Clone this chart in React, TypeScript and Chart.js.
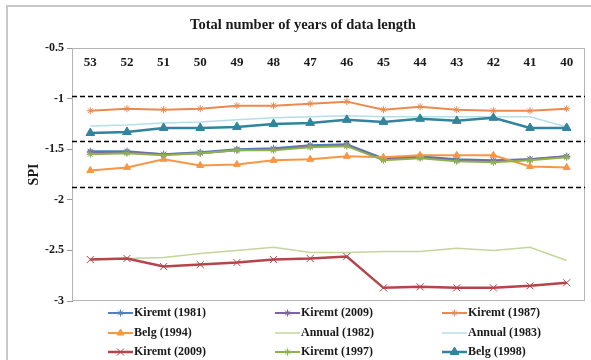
import React, { useEffect, useRef } from 'react';
import { Chart, registerables } from 'chart.js';
import { drawPoint } from 'chart.js/helpers';

Chart.register(...registerables);

const categories = ['53', '52', '51', '50', '49', '48', '47', '46', '45', '44', '43', '42', '41', '40'];

const kiremt1981 = [-1.52, -1.52, -1.55, -1.53, -1.50, -1.49, -1.46, -1.45, -1.59, -1.57, -1.60, -1.61, -1.60, -1.57];
const kiremt2009a = [-1.53, -1.53, -1.55, -1.54, -1.51, -1.50, -1.47, -1.46, -1.60, -1.58, -1.61, -1.62, -1.60, -1.57];
const kiremt1987 = [-1.12, -1.10, -1.11, -1.10, -1.07, -1.07, -1.05, -1.03, -1.11, -1.08, -1.11, -1.12, -1.12, -1.10];
const belg1994 = [-1.71, -1.68, -1.60, -1.66, -1.65, -1.61, -1.60, -1.57, -1.58, -1.56, -1.56, -1.56, -1.67, -1.68];
const annual1982 = [-2.59, -2.58, -2.57, -2.53, -2.50, -2.47, -2.52, -2.52, -2.51, -2.51, -2.48, -2.50, -2.47, -2.60];
const annual1983 = [-1.27, -1.26, -1.24, -1.23, -1.21, -1.19, -1.18, -1.17, -1.18, -1.18, -1.18, -1.18, -1.18, -1.28];
const kiremt2009b = [-2.59, -2.58, -2.66, -2.64, -2.62, -2.59, -2.58, -2.56, -2.87, -2.86, -2.87, -2.87, -2.85, -2.82];
const kiremt1997 = [-1.55, -1.54, -1.56, -1.54, -1.51, -1.51, -1.48, -1.47, -1.61, -1.59, -1.62, -1.63, -1.61, -1.58];
const belg1998 = [-1.34, -1.33, -1.29, -1.29, -1.28, -1.25, -1.24, -1.21, -1.23, -1.20, -1.22, -1.19, -1.29, -1.29];

const seriesNames = [
  'Kiremt (1981)', 'Kiremt (2009)', 'Kiremt (1987)',
  'Belg (1994)', 'Annual (1982)', 'Annual (1983)',
  'Kiremt (2009)', 'Kiremt (1997)', 'Belg (1998)',
];
const seriesData = [kiremt1981, kiremt2009a, kiremt1987, belg1994, annual1982, annual1983, kiremt2009b, kiremt1997, belg1998];
const seriesColors = ['#4F81BD', '#8064A2', '#EB8A4E', '#F79646', '#C3D69B', '#B7DDE8', '#B5454A', '#8DB24E', '#31849B'];
const seriesMarkers = ['star', 'star', 'star', 'triangle', 'line', 'line', 'crossRot', 'star', 'triangle'];
const seriesRadius = [3.5, 3.5, 3.5, 4, 0, 0, 5, 3.5, 5];
const seriesWidths = [2, 2, 2, 2, 1.5, 1.5, 2.5, 2, 2.5];

const thresholds = [-0.97, -1.42, -1.87];
const chartTitle = 'Total number of years of data length';
const yTitle = 'SPI';

const SERIF = "'Liberation Serif', 'Times New Roman', serif";

const framePlugin = {
  id: 'frame',
  beforeDraw(chart: any) {
    const ctx = chart.ctx;
    ctx.save();
    ctx.strokeStyle = '#c8c8c8';
    ctx.lineWidth = 2;
    ctx.beginPath();
    ctx.moveTo(7, 360);
    ctx.lineTo(7, 6);
    ctx.lineTo(591, 6);
    ctx.stroke();
    ctx.restore();
  },
  beforeDatasetsDraw(chart: any) {
    const { ctx, chartArea: a, scales } = chart;
    ctx.save();
    ctx.strokeStyle = '#b4b4b4';
    ctx.lineWidth = 1;
    ctx.strokeRect(a.left + 0.5, a.top + 0.5, a.right - a.left - 1, a.bottom - a.top - 1);
    ctx.strokeStyle = '#000';
    ctx.lineWidth = 1.6;
    ctx.setLineDash([5, 3]);
    thresholds.forEach((t) => {
      const y = Math.round(scales.y.getPixelForValue(t)) + 0.5;
      ctx.beginPath();
      ctx.moveTo(a.left, y);
      ctx.lineTo(a.right, y);
      ctx.stroke();
    });
    ctx.restore();
  },
  afterDraw(chart: any) {
    const { ctx, scales } = chart;
    ctx.save();
    ctx.fillStyle = '#1a1a1a';
    ctx.textAlign = 'center';
    ctx.textBaseline = 'middle';
    ctx.font = `bold 14.5px ${SERIF}`;
    ctx.fillText(chartTitle, 303, 25);
    ctx.font = `bold 13px ${SERIF}`;
    categories.forEach((c, i) => {
      ctx.fillText(c, scales.x.getPixelForValue(i), 63);
    });
    // legend
    const cols = [108, 275, 442];
    const rows = [313, 333, 352];
    ctx.textAlign = 'left';
    chart.data.datasets.forEach((ds: any, i: number) => {
      const x = cols[i % 3];
      const y = rows[Math.floor(i / 3)];
      ctx.strokeStyle = ds.borderColor;
      ctx.lineWidth = ds.borderWidth;
      ctx.setLineDash([]);
      ctx.beginPath();
      ctx.moveTo(x, y);
      ctx.lineTo(x + 25, y);
      ctx.stroke();
      if (ds.pointRadius > 0) {
        ctx.fillStyle = ds.borderColor;
        ctx.strokeStyle = ds.borderColor;
        ctx.lineWidth = 1;
        drawPoint(ctx, { pointStyle: ds.pointStyle, radius: ds.pointRadius, borderWidth: 1, rotation: 0 }, x + 12.5, y);
      }
      ctx.fillStyle = '#1a1a1a';
      ctx.font = `bold 12px ${SERIF}`;
      ctx.fillText(ds.label, x + 26, y);
    });
    ctx.restore();
  },
};

export default function App() {
  const ref = useRef<HTMLCanvasElement | null>(null);
  useEffect(() => {
    if (!ref.current) return;
    const chart = new Chart(ref.current, {
      type: 'line',
      data: {
        labels: categories,
        datasets: seriesData.map((d, i) => ({
          label: seriesNames[i],
          data: d,
          borderColor: seriesColors[i],
          backgroundColor: seriesColors[i],
          borderWidth: seriesWidths[i],
          pointStyle: seriesMarkers[i] as any,
          pointRadius: seriesRadius[i],
          pointBorderWidth: 1,
          tension: 0,
          fill: false,
          order: 9 - i,
        })),
      },
      options: {
        responsive: false,
        animation: false,
        devicePixelRatio: 1,
        layout: { padding: { top: 48, bottom: 59, left: 0, right: 6 } },
        plugins: { legend: { display: false }, title: { display: false }, tooltip: { enabled: false } },
        scales: {
          x: { type: 'category', display: false, offset: true },
          y: {
            type: 'linear',
            min: -3,
            max: -0.5,
            ticks: {
              stepSize: 0.5,
              color: '#1a1a1a',
              font: { family: SERIF, size: 12, weight: 'bold' },
              padding: 3,
              callback: (v: any) => String(Number(v)),
            },
            grid: { drawOnChartArea: false, drawTicks: true, tickLength: 5, color: '#999' },
            border: { display: true, color: '#999' },
            title: {
              display: true,
              text: yTitle,
              color: '#1a1a1a',
              font: { family: SERIF, size: 14, weight: 'bold' },
              padding: { top: 26, bottom: 0 },
            },
            afterFit: (s: any) => { s.width = 72; },
          },
        },
      },
      plugins: [framePlugin],
    });
    return () => chart.destroy();
  }, []);
  return (
    <div style={{ position: 'absolute', left: 0, top: 0, width: 591, height: 360, background: '#fff' }}>
      <canvas ref={ref} width={591} height={360} />
    </div>
  );
}
